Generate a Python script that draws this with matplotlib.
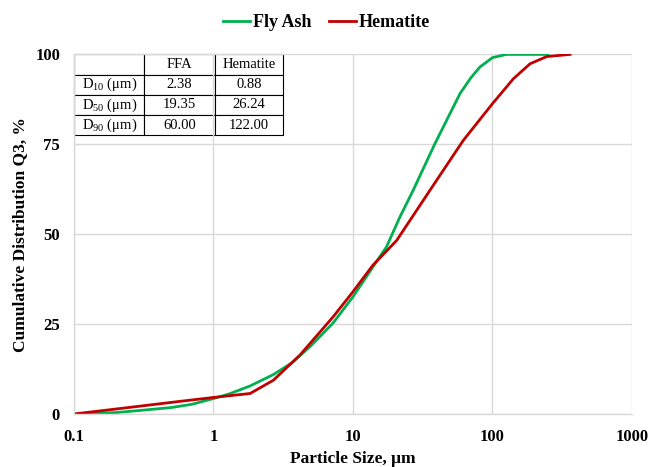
import numpy as np
import matplotlib
matplotlib.use("Agg")
import matplotlib.pyplot as plt
from matplotlib.ticker import FixedLocator, FixedFormatter, NullLocator

plt.rcParams["font.family"] = ["Liberation Serif", "DejaVu Serif"]
plt.rcParams["mathtext.fontset"] = "custom"
plt.rcParams["mathtext.rm"] = "Liberation Serif"
plt.rcParams["mathtext.default"] = "regular"

# ── data ────────────────────────────────────────────────────────────────────
fa_size = [0.1, 0.2, 0.3, 0.5, 0.7, 1.0, 1.3, 1.83, 2.7, 3.7, 5.0, 7.2, 10,
           13.9, 17.4, 21.7, 27, 38.7, 58.5, 70, 81.3, 100, 126, 160, 250]
fa_q3 = [0, 0.4, 1.0, 1.8, 2.7, 4.3, 5.6, 7.8, 11.0, 14.4, 19.0, 25.3, 32.6,
         40.9, 46.5, 54.8, 62.2, 75.2, 89.1, 93.5, 96.5, 99.1, 100, 100, 100]

hem_size = [0.1, 0.3, 0.6, 1.0, 1.83, 2.69, 4.17, 7.2, 10, 13.9, 20.6, 35.6,
            61.8, 100, 141, 186, 245, 360]
hem_q3 = [0, 2.2, 3.6, 4.6, 5.7, 9.4, 16.4, 27.0, 34.0, 41.4, 48.3, 62.2,
          76.1, 86.3, 93.2, 97.4, 99.4, 100]

table_cols = ["", "FFA", "Hematite"]
table_rows = ["D$_{10}$ (μm)", "D$_{50}$ (μm)", "D$_{90}$ (μm)"]
ffa_d = ["2.38", "19.35", "60.00"]
hem_d = ["0.88", "26.24", "122.00"]

xticks = [0.1, 1, 10, 100, 1000]
xticklabels = ["0.1", "1", "10", "100", "1000"]
yticks = [0, 25, 50, 75, 100]

green = "#00B050"
red = "#C00000"
gridc = "#D9D9D9"

fig = plt.figure(figsize=(6.53, 4.67), dpi=100)
ax = fig.add_axes([0.1133, 0.1135, 0.8545, 0.7700])

ax.plot(fa_size, fa_q3, color=green, lw=2.0, label="Fly Ash")
ax.plot(hem_size, hem_q3, color=red, lw=2.0, label="Hematite")

ax.set_xscale("log")
ax.set_xlim(0.1, 1000)
ax.set_ylim(0, 100)
ax.xaxis.set_major_locator(FixedLocator(xticks))
ax.xaxis.set_major_formatter(FixedFormatter(xticklabels))
ax.xaxis.set_minor_locator(NullLocator())
ax.set_yticks(yticks)
ax.grid(True, color=gridc, lw=1.0)
ax.set_axisbelow(True)
for side in ["top", "right"]:
    ax.spines[side].set_visible(False)
for side in ["left", "bottom"]:
    ax.spines[side].set_color(gridc)
    ax.spines[side].set_linewidth(1.0)
ax.tick_params(length=0, labelsize=12)
ax.tick_params(axis="x", pad=11)
ax.tick_params(axis="y", pad=10)
for lab in ax.get_xticklabels() + ax.get_yticklabels():
    lab.set_fontweight("bold")

ax.set_xlabel("Particle Size, μm", fontsize=12.5, fontweight="bold", labelpad=4)
ax.set_ylabel("Cumulative Distribution Q3, %", fontsize=12.5,
              fontweight="bold", labelpad=5)

# D-value table in the top-left corner
cells = [[r, a, b] for r, a, b in zip(table_rows, ffa_d, hem_d)]
tbl = ax.table(cellText=[table_cols] + cells, cellLoc="center",
               colWidths=[0.34, 0.34, 0.33],
               bbox=[0.0, 0.775, 0.375, 0.225])
tbl.auto_set_font_size(False)
tbl.set_fontsize(10.5)
for (r, c), cell in tbl.get_celld().items():
    cell.set_edgecolor("black")
    cell.set_linewidth(0.8)
    cell.set_facecolor("white")

fig.legend(loc="upper center", bbox_to_anchor=(0.5, 1.005), ncol=2,
           frameon=False, prop={"weight": "bold", "size": 13},
           handlelength=1.5, handletextpad=0.15, columnspacing=1.0)

fig.savefig("out.png", dpi=100)
